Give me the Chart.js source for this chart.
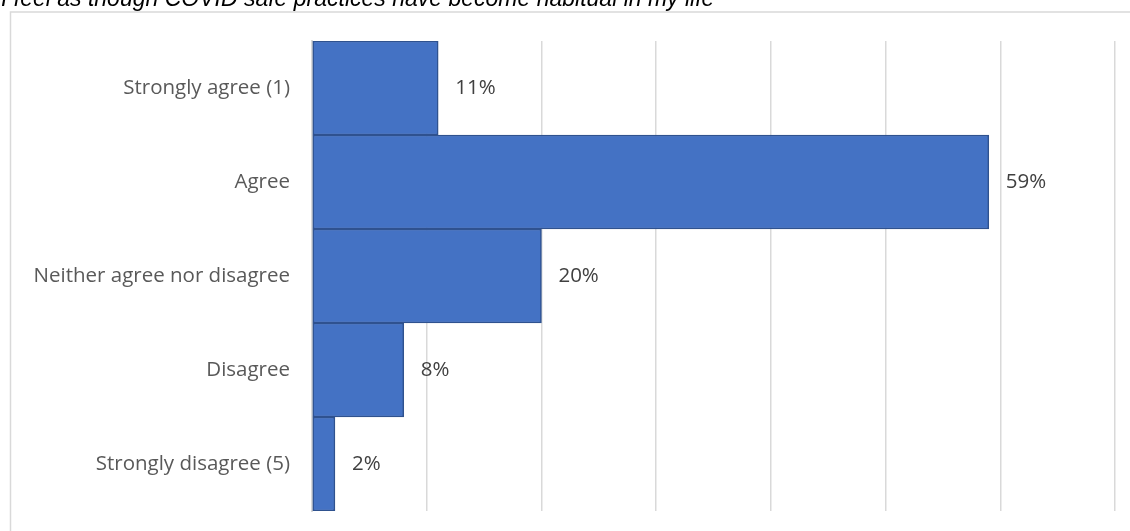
<!DOCTYPE html>
<html>
<head>
<meta charset="utf-8">
<script src="https://cdn.jsdelivr.net/npm/chart.js@4/dist/chart.umd.min.js"></script>
<style>
  html, body { margin: 0; padding: 0; background: #fff; }
  #wrap { width: 1130px; height: 531px; position: relative; }
</style>
</head>
<body>
<div id="wrap"><canvas id="habitChart"></canvas></div>
<script>
const title = 'I feel as though COVID safe practices have become habitual in my life';
const categories = ['Strongly agree (1)', 'Agree', 'Neither agree nor disagree', 'Disagree', 'Strongly disagree (5)'];
const percents = [11, 59, 20, 8, 2];
const xTicks = [0, 10, 20, 30, 40, 50, 60, 70];

const labelFont = '"Open Sans", sans-serif';

// Outer frame and the italic heading that sits above it
const framePlugin = {
  id: 'frame',
  beforeDraw(chart) {
    const ctx = chart.ctx;
    ctx.save();
    ctx.strokeStyle = '#d9d9d9';
    ctx.lineWidth = 1.5;
    ctx.strokeRect(10.5, 12, 2000, 2000);
    ctx.fillStyle = '#000';
    ctx.font = 'italic 23px "Liberation Sans", Arial, sans-serif';
    ctx.textBaseline = 'alphabetic';
    ctx.fillText(title, 1, 6);
    ctx.restore();
  }
};

// Percent labels to the right of each bar
const valueLabels = {
  id: 'valueLabels',
  afterDatasetsDraw(chart) {
    const ctx = chart.ctx;
    const meta = chart.getDatasetMeta(0);
    ctx.save();
    ctx.fillStyle = '#404040';
    ctx.font = '20.5px ' + labelFont;
    ctx.textBaseline = 'middle';
    meta.data.forEach((bar, i) => {
      ctx.fillText(percents[i] + '%', bar.x + 17, bar.y);
    });
    ctx.restore();
  }
};

new Chart(document.getElementById('habitChart'), {
  type: 'bar',
  data: {
    labels: categories,
    datasets: [{
      data: percents,
      backgroundColor: '#4472c4',
      borderColor: '#2f528f',
      borderWidth: 1.5,
      borderSkipped: false,
      categoryPercentage: 1,
      barPercentage: 1
    }]
  },
  options: {
    indexAxis: 'y',
    responsive: true,
    maintainAspectRatio: false,
    animation: false,
    layout: { padding: { left: 0, top: 41, right: 15, bottom: 20 } },
    plugins: {
      legend: { display: false },
      tooltip: { enabled: false }
    },
    scales: {
      x: {
        min: xTicks[0],
        max: xTicks[xTicks.length - 1],
        afterBuildTicks: s => { s.ticks = xTicks.map(v => ({ value: v })); },
        ticks: { display: false },
        grid: { color: '#d9d9d9', lineWidth: 1.5, drawTicks: false },
        border: { display: false }
      },
      y: {
        // fixed label column; labels sit inside their bands so no overflow padding
        afterFit: s => {
          s.width = 312;
          s.paddingTop = 0;
          s.paddingBottom = 0;
        },
        ticks: {
          color: '#595959',
          font: { family: labelFont, size: 20.5 },
          padding: 22
        },
        grid: { display: false, drawTicks: false },
        border: { color: '#d9d9d9', width: 2 }
      }
    }
  },
  plugins: [framePlugin, valueLabels]
});
</script>
</body>
</html>
